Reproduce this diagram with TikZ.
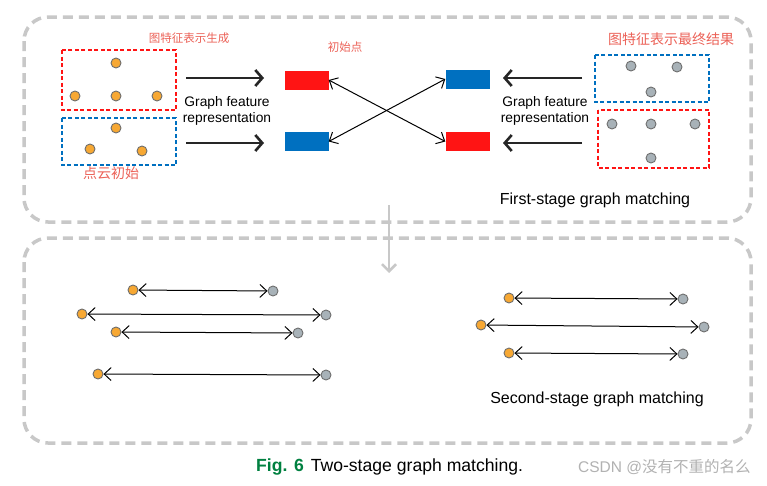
\documentclass[tikz,border=0pt]{standalone}
\usepackage{fontspec}
\setmainfont{Liberation Sans}
\newfontfamily\cjk{Noto Sans CJK SC}
\usetikzlibrary{arrows.meta}
\definecolor{boxgray}{RGB}{200,200,200}
\definecolor{myred}{RGB}{255,20,20}
\definecolor{myblue}{RGB}{0,112,192}
\definecolor{dotorange}{RGB}{247,168,51}
\definecolor{dotgray}{RGB}{168,178,184}
\definecolor{dotline}{RGB}{110,110,110}
\definecolor{hand}{RGB}{236,98,88}
\definecolor{figgreen}{RGB}{0,128,64}
\tikzset{
  outerbox/.style={draw=boxgray, line width=3.5pt, dash pattern=on 10pt off 6pt, rounded corners=24pt},
  redframe/.style={draw=myred, line width=1.5pt, dash pattern=on 4pt off 2.5pt},
  blueframe/.style={draw=myblue, line width=1.5pt, dash pattern=on 4pt off 2.5pt},
  odot/.style={circle, draw=dotline, line width=0.9pt, fill=dotorange, minimum size=10pt, inner sep=0pt},
  gdot/.style={circle, draw=dotline, line width=0.9pt, fill=dotgray, minimum size=10pt, inner sep=0pt},
  redbar/.style={fill=myred, minimum width=44pt, minimum height=19pt, inner sep=0pt},
  bluebar/.style={fill=myblue, minimum width=44pt, minimum height=19pt, inner sep=0pt},
  fatarrow/.style={line width=2.6pt, -{Straight Barb[length=7pt,width=16pt,line width=2.6pt]}, draw=black!85},
  thinboth/.style={line width=1pt, {Straight Barb[length=7pt,width=13pt]}-{Straight Barb[length=7pt,width=13pt]}},
  label/.style={font=\fontsize{13.8}{15.5}\selectfont, align=center, inner sep=0pt},
  handtext/.style={text=hand, inner sep=0pt},
}
\begin{document}
\begin{tikzpicture}[x=1pt,y=-1pt]
\useasboundingbox (0,0) rectangle (767,485);
\fill[white] (0,0) rectangle (767,485);
% outer boxes
\draw[outerbox] (24,17) rectangle (751,222);
\draw[outerbox] (24,238) rectangle (751,443);
\coordinate (arrs) at (389,205);
\coordinate (arre) at (389,273);
\draw[boxgray, line width=2.5pt, -{Straight Barb[length=7pt,width=14pt,line width=2.5pt]}] (arrs) -- (arre);

% left frames
\draw[redframe] (62,50) rectangle (176,110);
\draw[blueframe] (62,118) rectangle (176,165);
\node[odot] (l1) at (116,63) {};
\node[odot] (l2) at (75,96) {};
\node[odot] (l3) at (116,96) {};
\node[odot] (l4) at (157,96) {};
\node[odot] (l5) at (116,128) {};
\node[odot] (l6) at (90,149) {};
\node[odot] (l7) at (142,151) {};

% right frames
\draw[blueframe] (595,55) rectangle (709,102);
\draw[redframe] (598,110) rectangle (709,168);
\node[gdot] (r1) at (631,66) {};
\node[gdot] (r2) at (677,67) {};
\node[gdot] (r3) at (651,92) {};
\node[gdot] (r4) at (612,124) {};
\node[gdot] (r5) at (651,124) {};
\node[gdot] (r6) at (695,124) {};
\node[gdot] (r7) at (651,158) {};

% feature bars
\node[redbar] (redL) at (306.5,80) {};
\node[bluebar] (blueL) at (306.5,141.5) {};
\node[bluebar] (blueR) at (467.5,79) {};
\node[redbar] (redR) at (467.5,141.5) {};

% fat arrows
\coordinate (la1s) at (186,78); \coordinate (la1e) at (264,78);
\coordinate (la2s) at (186,143); \coordinate (la2e) at (264,143);
\coordinate (ra1s) at (582,78); \coordinate (ra1e) at (503,78);
\coordinate (ra2s) at (582,143); \coordinate (ra2e) at (503,143);
\draw[fatarrow] (la1s) -- (la1e);
\draw[fatarrow] (la2s) -- (la2e);
\draw[fatarrow] (ra1s) -- (ra1e);
\draw[fatarrow] (ra2s) -- (ra2e);
\node[label] (gfl) at (227,111) {Graph feature\\representation};
\node[label] (gfr) at (545,111) {Graph feature\\representation};

% crossing arrows
\draw[thinboth] (redL.east) -- (redR.west);
\draw[thinboth] (blueL.east) -- (blueR.west);

\node[font=\fontsize{16}{18}\selectfont] (fs) at (595,200) {First-stage graph matching};

% handwritten notes
\node[handtext, font=\cjk\fontsize{11.5}{13}\selectfont] (h1) at (189,38) {图特征表示生成};
\node[handtext, font=\cjk\fontsize{11.5}{13}\selectfont] (h2) at (345,47) {初始点};
\node[handtext, font=\cjk\fontsize{14}{16}\selectfont] (h3) at (671,39) {图特征表示最终结果};
\node[handtext, font=\cjk\fontsize{14}{16}\selectfont] (h4) at (111,173) {点云初始};

% second stage
\node[odot] (a1) at (133,290) {}; \node[gdot] (b1) at (273,291) {};
\node[odot] (a2) at (82,314) {};  \node[gdot] (b2) at (326,315) {};
\node[odot] (a3) at (116,332) {}; \node[gdot] (b3) at (298,333) {};
\node[odot] (a4) at (98,374) {};  \node[gdot] (b4) at (326,375) {};
\node[odot] (a5) at (509,298) {}; \node[gdot] (b5) at (683,299) {};
\node[odot] (a6) at (481,325) {}; \node[gdot] (b6) at (704,327) {};
\node[odot] (a7) at (509,353) {}; \node[gdot] (b7) at (683,354) {};
\foreach \i in {1,...,7} { \draw[thinboth] (a\i) -- (b\i); }

\node[font=\fontsize{16}{18}\selectfont] (ss) at (597,399) {Second-stage graph matching};

% caption
\node[anchor=west, inner sep=0pt, font=\fontsize{17.6}{19}\selectfont] (cap) at (256,467) {\textcolor{figgreen}{\textbf{Fig. 6}}\hspace{7pt}Two-stage graph matching.};
\node[anchor=west, inner sep=0pt, text=black!30, font=\fontsize{15.5}{17}\selectfont] (wm) at (578,467) {CSDN @{\cjk 没有不重的名么}};
\end{tikzpicture}
\end{document}
